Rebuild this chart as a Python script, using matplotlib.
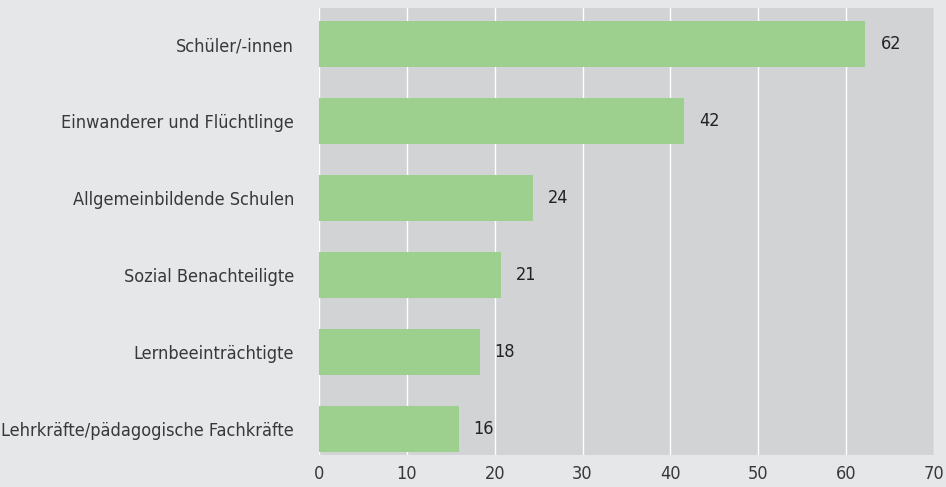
#!/usr/bin/env python3
""" horizontal bar chart of target groups """
import matplotlib
matplotlib.use("Agg")
import matplotlib.pyplot as plt

categories = ["Schüler/-innen", "Einwanderer und Flüchtlinge", "Allgemeinbildende Schulen",
              "Sozial Benachteiligte", "Lernbeeinträchtigte", "Lehrkräfte/pädagogische Fachkräfte"]
values = [62.2, 41.6, 24.4, 20.7, 18.3, 15.9]
value_labels = ["62", "42", "24", "21", "18", "16"]
xticks = [0, 10, 20, 30, 40, 50, 60, 70]

plt.rcParams['font.family'] = ['Liberation Sans Narrow', 'DejaVu Sans']
plt.rcParams['font.stretch'] = 'condensed'

fig = plt.figure(figsize=(9.46, 4.87), dpi=100, facecolor='#e6e7e9')
ax = fig.add_axes([319 / 946, 32 / 487, 615 / 946, 447 / 487])
ax.set_facecolor('#d1d3d5')

pos = list(range(len(categories)))[::-1]
bars = ax.barh(pos, values, height=0.6, color='#9dd08f', zorder=3)
for b, lab in zip(bars, value_labels):
    ax.text(b.get_width() + 1.7, b.get_y() + b.get_height() / 2, lab,
            va='center', ha='left', fontsize=13, color='#222222', zorder=4)

ax.set_xlim(0, 70)
ax.set_ylim(-0.34, 5.47)
ax.set_xticks(xticks)
ax.set_yticks(pos)
ax.set_yticklabels(categories)
ax.tick_params(length=0, labelsize=13, colors='#383838')
ax.tick_params(axis='y', pad=18)
ax.tick_params(axis='x', pad=7)
ax.grid(axis='x', color='white', linewidth=1.0, zorder=1)
for s in ax.spines.values():
    s.set_visible(False)

fig.savefig("out.png", dpi=100, facecolor=fig.get_facecolor())
